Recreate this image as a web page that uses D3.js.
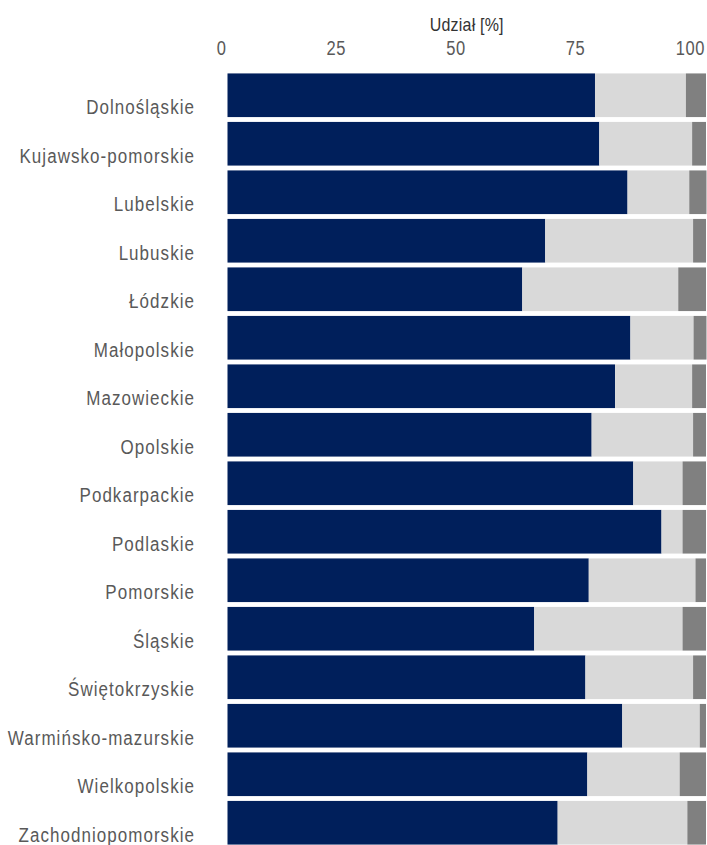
<!DOCTYPE html>
<html><head><meta charset="utf-8">
<script src="https://cdn.jsdelivr.net/npm/d3@7"></script>
<style>
html,body{margin:0;padding:0;background:#fff;}
svg{display:block;}
text{font-family:"Liberation Sans",Arial,sans-serif;}
</style></head>
<body>
<svg id="chart" width="707" height="845"></svg>
<script>
const categories = ["Dolnośląskie","Kujawsko-pomorskie","Lubelskie","Lubuskie","Łódzkie","Małopolskie","Mazowieckie","Opolskie","Podkarpackie","Podlaskie","Pomorskie","Śląskie","Świętokrzyskie","Warmińsko-mazurskie","Wielkopolskie","Zachodniopomorskie"];
const seriesA = [76.8,77.7,83.6,66.4,61.6,84.2,81.0,76.1,84.8,90.7,75.5,64.1,74.8,82.5,75.2,69.0];
const seriesB = [19.0,19.4,12.9,30.9,32.6,13.2,16.1,21.2,10.3,4.4,22.3,31.0,22.5,16.2,19.3,27.1];
const seriesC = [4.2,2.9,3.6,2.7,5.8,2.7,2.9,2.7,4.9,4.9,2.2,4.9,2.7,1.3,5.5,3.9];
const tickValues = [0,25,50,75,100];
const axisTitle = "Udział [%]";
const colors = ["#001f5b","#d9d9d9","#808080"];

const rows = categories.map((c,i)=>({cat:c, a:seriesA[i], b:seriesB[i], c:seriesC[i]}));
const stack = d3.stack().keys(["a","b","c"])(rows);

const svg = d3.select("#chart");
const x = d3.scaleLinear().domain([0,100]).range([227.5,706]);
const y = d3.scaleBand().domain(categories).range([71,847]).paddingInner(0.1).paddingOuter(0.05);

svg.append("g").selectAll("g").data(stack).join("g")
  .attr("fill",(d,i)=>colors[i])
  .selectAll("rect").data(d=>d).join("rect")
  .attr("x",d=>x(d[0]))
  .attr("y",d=>y(d.data.cat))
  .attr("width",d=>x(d[1])-x(d[0]))
  .attr("height",y.bandwidth());

// top axis
const ax = svg.append("g").attr("transform","translate(0,55)")
  .call(d3.axisTop(x).tickValues(tickValues).tickSize(0).tickPadding(0));
ax.select(".domain").remove();
ax.selectAll("text").attr("text-anchor","end").attr("x",-1.5).attr("y",0).attr("dy",0)
  .attr("font-size",16.5).attr("fill","#595959").attr("font-family","Liberation Sans, Arial, sans-serif")
  .attr("letter-spacing","0.6px").attr("transform","scale(1,1.22)");

svg.append("text").attr("transform",`translate(${(x(0)+x(100))/2},31) scale(1,1.2)`).attr("text-anchor","middle")
  .attr("font-size",16).attr("letter-spacing","0.2px").attr("fill","#333").text(axisTitle);

// category labels
svg.append("g").selectAll("text").data(categories).join("text")
  .attr("transform",d=>`translate(195,${y(d)+y.bandwidth()-3}) scale(1,1.15)`)
  .attr("text-anchor","end").attr("font-size",17).attr("letter-spacing","1.05px")
  .attr("fill","#595959").text(d=>d);
</script>
</body></html>
